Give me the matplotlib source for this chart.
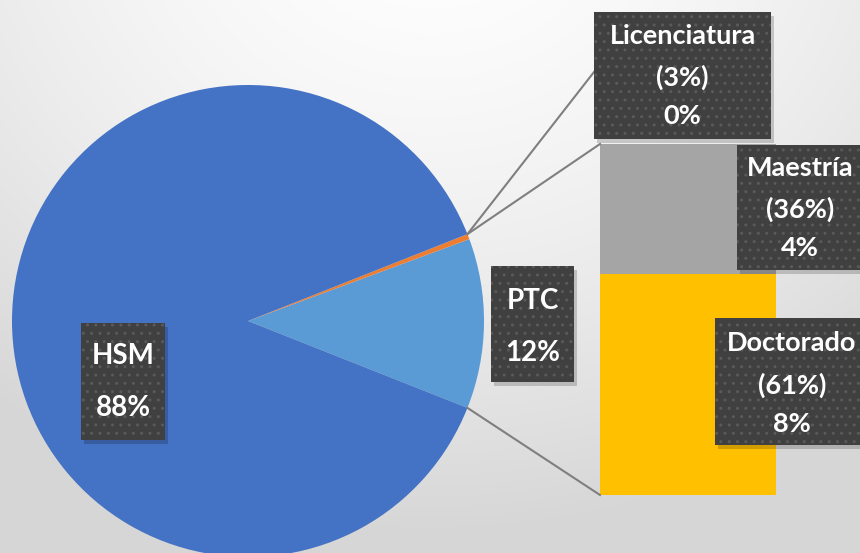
import numpy as np
import matplotlib
matplotlib.use('Agg')
import matplotlib.pyplot as plt
from matplotlib.patches import Rectangle

plt.rcParams['font.family'] = ['Lato', 'DejaVu Sans']

# data
pie_names = ['PTC', 'Licenciatura', 'HSM']
hsm_pct = 88
ptc_pct = 12
bar_names = ['Licenciatura', 'Maestría', 'Doctorado']
bar_share = [3, 36, 61]        # share within PTC
bar_overall = [0, 4, 8]        # share of total

C_HSM, C_PTC, C_LIC = '#4472C4', '#5B9BD5', '#ED7D31'
C_MAE, C_DOC = '#A5A5A5', '#FFC000'
BOX = '#404040'

W, H = 860, 553
fig = plt.figure(figsize=(8.6, 5.53), dpi=100)
ax = fig.add_axes([0, 0, 1, 1])

# background radial gradient
yy, xx = np.mgrid[0:H, 0:W]
r = np.hypot(xx - 430, (yy + 120) * 1.1) / 720
bg = 1 - 0.16 * np.clip(r, 0, 1) ** 1.6
ax.imshow(np.dstack([bg, bg, bg]), extent=(0, W, 0, H), origin='upper', zorder=0)

# pie (pixel coords, y up)
cx, cy, rad = 248, H - 321, 236
lic_pie = ptc_pct * bar_share[0] / 100
pie_vals = [ptc_pct - lic_pie, lic_pie, hsm_pct]
start = -ptc_pct / 2 * 3.6
ax.pie(pie_vals, colors=[C_PTC, C_LIC, C_HSM], startangle=start, counterclock=True,
       center=(cx, cy), radius=rad, frame=True,
       wedgeprops=dict(linewidth=0), normalize=True)

# bar of Maestría + Doctorado
bx, bw = 688, 176
bottom_px, top_px = 495, 144
scale = (bottom_px - top_px) / (bar_share[1] + bar_share[2])
y0 = H - bottom_px
ax.bar(bx, bar_share[2] * scale, width=bw, bottom=y0, color=C_DOC, zorder=2)
ax.bar(bx, bar_share[1] * scale, width=bw, bottom=y0 + bar_share[2] * scale,
       color=C_MAE, zorder=2)

# connector lines
a_top = np.radians(ptc_pct / 2 * 3.6)
a_bot = np.radians(-ptc_pct / 2 * 3.6)
p_top = (cx + rad * np.cos(a_top), cy + rad * np.sin(a_top))
p_bot = (cx + rad * np.cos(a_bot), cy + rad * np.sin(a_bot))
bar_left = bx - bw / 2
lc = '#7F7F7F'
ax.plot([p_top[0], bar_left], [p_top[1], H - top_px], color=lc, lw=1.5, zorder=3)
ax.plot([p_bot[0], bar_left], [p_bot[1], y0], color=lc, lw=1.5, zorder=3)
ax.plot([p_top[0], 594], [p_top[1], H - 72], color=lc, lw=1.5, zorder=3)


def label_box(x0, y0p, x1, y1p, lines, ys, xc=None, size=19.5):
    rect = Rectangle((x0, H - y1p), x1 - x0, y1p - y0p, facecolor=BOX,
                     edgecolor='#5A5A5A', hatch='..', linewidth=0, zorder=5)
    shadow = Rectangle((x0 + 3, H - y1p - 4), x1 - x0, y1p - y0p,
                       facecolor='#000000', alpha=0.18, linewidth=0, zorder=4)
    ax.add_patch(shadow)
    ax.add_patch(rect)
    if xc is None:
        xc = (x0 + x1) / 2
    for t, yp in zip(lines, ys):
        ax.text(xc, H - yp, t, color='white', fontsize=size, fontweight='bold',
                ha='center', va='center', zorder=6)


label_box(594, 12, 771, 139,
          [bar_names[0], f'({bar_share[0]}%)', f'{bar_overall[0]}%'], [36, 77, 116])
label_box(737, 145, 870, 270,
          [bar_names[1], f'({bar_share[1]}%)', f'{bar_overall[1]}%'], [168, 209, 248], xc=800)
label_box(715, 318, 870, 445,
          [bar_names[2], f'({bar_share[2]}%)', f'{bar_overall[2]}%'], [343, 385, 424], xc=792)
label_box(491, 266, 574, 382, [pie_names[0], f'{ptc_pct}%'], [301, 353], size=20)
label_box(81, 323, 165, 440, [pie_names[2], f'{hsm_pct}%'], [356, 408], size=20)

ax.set_xlim(0, W)
ax.set_ylim(0, H)
ax.set_aspect('auto')
ax.axis('off')
fig.savefig('out.png', dpi=100)
